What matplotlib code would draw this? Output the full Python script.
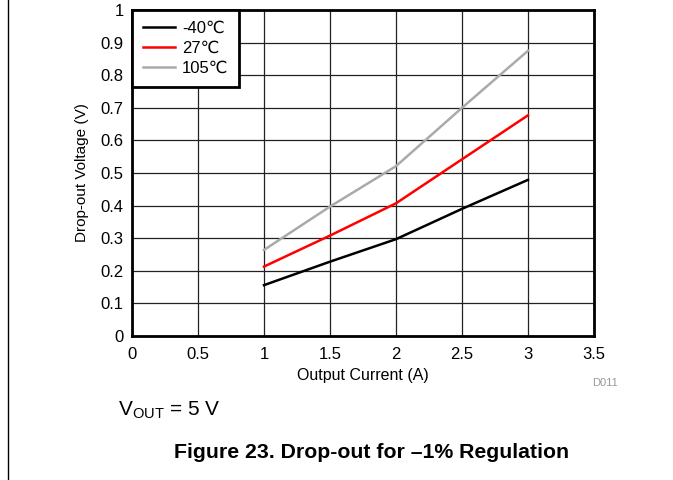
import matplotlib
matplotlib.use("Agg")
import matplotlib.pyplot as plt
from matplotlib.lines import Line2D

plt.rcParams['font.family'] = ['Liberation Sans', 'DejaVu Sans']

current = [1.0, 1.5, 2.0, 2.5, 3.0]
v_m40 = [0.156, 0.228, 0.297, 0.390, 0.479]
v_27 = [0.213, 0.308, 0.407, 0.542, 0.677]
v_105 = [0.264, 0.397, 0.521, 0.700, 0.875]
labels = ['-40\u2103', '27\u2103', '105\u2103']
colors = ['black', '#ff0000', '#aaaaaa']
xticks = [0, 0.5, 1, 1.5, 2, 2.5, 3, 3.5]
yticks = [0, 0.1, 0.2, 0.3, 0.4, 0.5, 0.6, 0.7, 0.8, 0.9, 1]

fig = plt.figure(figsize=(6.73, 4.8), dpi=100)
ax = fig.add_axes([132/673, 1-336/480, (594-132)/673, (336-10)/480])

for y, lab, c in zip([v_m40, v_27, v_105], labels, colors):
    ax.plot(current, y, color=c, lw=1.8, label=lab)

ax.set_xlim(0, 3.5)
ax.set_ylim(0, 1)
ax.set_xticks(xticks)
ax.set_xticklabels([f"{t:g}" for t in xticks])
ax.set_yticks(yticks)
ax.set_yticklabels([f"{t:g}" for t in yticks])
ax.grid(True, color='#222222', lw=0.9)
ax.set_axisbelow(True)
ax.tick_params(axis='x', length=0, labelsize=12, pad=8)
ax.tick_params(axis='y', length=0, labelsize=12, pad=6)
for s in ax.spines.values():
    s.set_linewidth(2)
    s.set_color('black')

ax.set_xlabel('Output Current (A)', fontsize=11.5, labelpad=4)
ax.set_ylabel('Drop-out Voltage (V)', fontsize=11, labelpad=8)

leg = ax.legend(loc='upper left', bbox_to_anchor=(0, 1), borderaxespad=0,
                fontsize=12, frameon=True, fancybox=False, handlelength=1.9,
                handletextpad=0.45, labelspacing=0.3, borderpad=0.65)
leg.get_frame().set_edgecolor('black')
leg.get_frame().set_linewidth(2)
leg.get_frame().set_alpha(1)

fig.text(605/673, 1-383/480, 'D011', fontsize=8, color='#999999', ha='center', va='center')
fig.text(118/673, 1-410/480, r'V$_{\mathregular{OUT}}$ = 5 V', fontsize=15, ha='left', va='center')
fig.text(372/673, 1-453/480, 'Figure 23. Drop-out for \u20131% Regulation', fontsize=15.3,
         fontweight='bold', ha='center', va='center')
fig.add_artist(Line2D([8/673, 8/673], [0, 1], transform=fig.transFigure, color='black', lw=1))

fig.savefig('out.png', dpi=100)
